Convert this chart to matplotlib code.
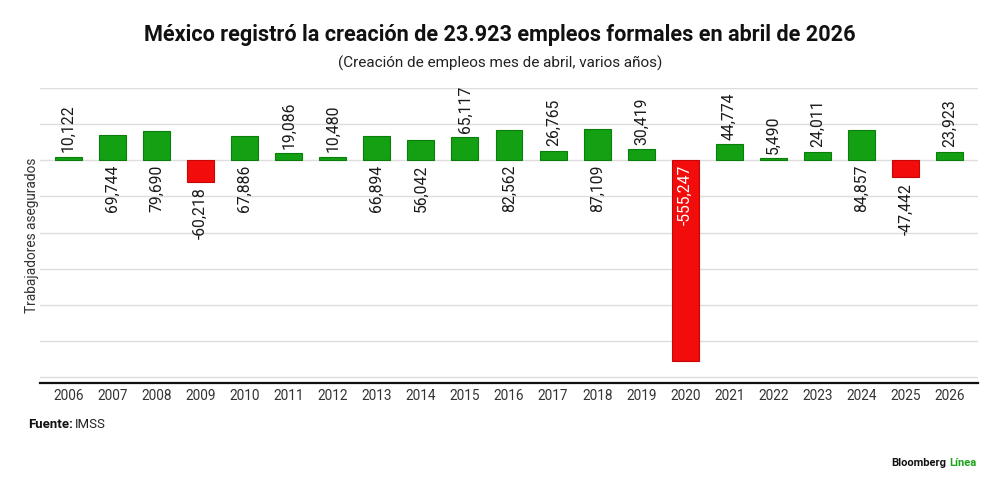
import matplotlib
matplotlib.use("Agg")
import matplotlib.pyplot as plt

years = [2006, 2007, 2008, 2009, 2010, 2011, 2012, 2013, 2014, 2015, 2016,
         2017, 2018, 2019, 2020, 2021, 2022, 2023, 2024, 2025, 2026]
empleos = [10122, 69744, 79690, -60218, 67886, 19086, 10480, 66894, 56042,
           65117, 82562, 26765, 87109, 30419, -555247, 44774, 5490, 24011,
           84857, -47442, 23923]
# years whose value label sits above the bar
labels_above = [2006, 2011, 2012, 2015, 2017, 2019, 2021, 2022, 2023, 2026]
# years whose value label sits inside the bar
labels_inside = [2020]

TITLE = "México registró la creación de 23.923 empleos formales en abril de 2026"
SUBTITLE = "(Creación de empleos mes de abril, varios años)"

GREEN = "#13a013"
GREEN_EDGE = "#0b7d0b"
RED = "#f20c0c"
RED_EDGE = "#c40808"

plt.rcParams["font.family"] = ["Roboto", "DejaVu Sans"]

fig = plt.figure(figsize=(10, 4.88), dpi=100)
ax = fig.add_axes([0.04, 1 - 383 / 488, 0.938, (383 - 88) / 488])

x = list(range(len(years)))
colors = [GREEN if v >= 0 else RED for v in empleos]
edges = [GREEN_EDGE if v >= 0 else RED_EDGE for v in empleos]
ax.bar(x, empleos, width=0.61, color=colors, edgecolor=edges, linewidth=0.8, zorder=3)

LBL = dict(rotation=90, ha="center", fontsize=11.3, zorder=4,
           textcoords="offset points")
for xi, yr, v in zip(x, years, empleos):
    txt = f"{v:,}"
    if yr in labels_inside:
        ax.annotate(txt, (xi, 0), xytext=(0, -3), va="top", color="white", **LBL)
    elif yr in labels_above:
        ax.annotate(txt, (xi, v), xytext=(0, 3), va="bottom", color="#1a1a1a", **LBL)
    elif v < 0:
        ax.annotate(txt, (xi, v), xytext=(0, -4), va="top", color="#1a1a1a", **LBL)
    else:
        ax.annotate(txt, (xi, 0), xytext=(0, -3), va="top", color="#1a1a1a", **LBL)

ax.set_xlim(-0.64, len(years) - 1 + 0.64)
ax.set_ylim(-616000, 200000)
ax.set_yticks(range(-600000, 200001, 100000))
ax.set_yticklabels([])
ax.tick_params(axis="y", length=0, pad=0)
ax.grid(axis="y", color="#dddddd", linewidth=1, zorder=0)
ax.set_xticks(x)
ax.set_xticklabels([str(y) for y in years], fontsize=9.8, color="#333333")
ax.tick_params(axis="x", length=0, pad=4)
for side in ["top", "right", "left"]:
    ax.spines[side].set_visible(False)
ax.spines["bottom"].set_linewidth(1.6)
ax.spines["bottom"].set_color("#111111")
ax.set_ylabel("Trabajadores asegurados", fontsize=9.8, color="#333333")
ax.yaxis.set_label_coords(-1 / 938, 0.5)

fig.text(0.5, 1 - 35 / 488, TITLE, ha="center", va="center", fontsize=15.6,
         fontweight="bold", color="#111111")
fig.text(0.5, 1 - 63 / 488, SUBTITLE, ha="center", va="center", fontsize=11,
         color="#222222")

# footer: source and brand
src = fig.text(28 / 1000, 1 - 425 / 488, "Fuente:", ha="left", va="center",
               fontsize=9.5, fontweight="bold", color="#111111")
fig.canvas.draw()
bb = src.get_window_extent()
fig.text(bb.x1 / fig.bbox.width + 0.002, 1 - 425 / 488, "IMSS", ha="left",
         va="center", fontsize=9.5, color="#222222")
linea = fig.text(0.976, 1 - 463 / 488, "Línea", ha="right", va="center",
                 fontsize=8, fontweight="bold", color="#1aa31a")
fig.canvas.draw()
bb = linea.get_window_extent()
fig.text(bb.x0 / fig.bbox.width - 0.003, 1 - 463 / 488, "Bloomberg", ha="right",
         va="center", fontsize=8, fontweight="bold", color="#111111")

fig.savefig("out.png", dpi=100, facecolor="white")
